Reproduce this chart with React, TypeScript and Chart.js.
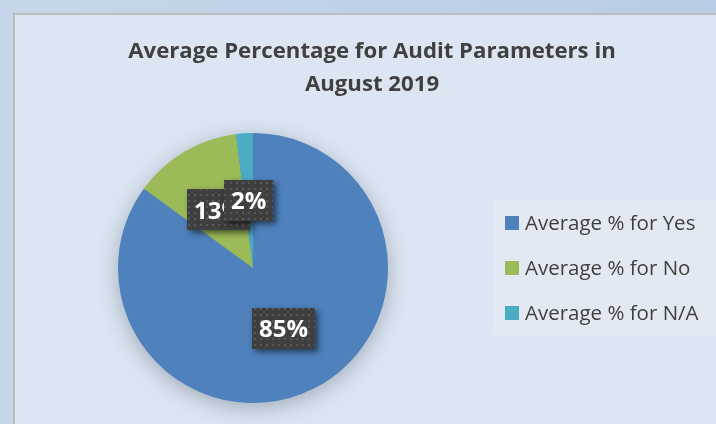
import React, { useEffect, useRef } from "react";
import { Chart, registerables } from "chart.js";

Chart.register(...registerables);

const categories = ["Average % for Yes", "Average % for No", "Average % for N/A"];
const values = [85, 13, 2];
const valueLabels = ["85%", "13%", "2%"];
const colors = ["#4f81bd", "#9bbb59", "#4bacc6"];
const titleLines = ["Average Percentage for Audit Parameters in", "August 2019"];

const FONT = "'Open Sans', 'DejaVu Sans', sans-serif";

function makePattern(ctx: CanvasRenderingContext2D) {
  const c = document.createElement("canvas");
  c.width = 6;
  c.height = 6;
  const p = c.getContext("2d")!;
  p.fillStyle = "#3f3f3f";
  p.fillRect(0, 0, 6, 6);
  p.fillStyle = "#575757";
  p.fillRect(2, 2, 2, 2);
  return ctx.createPattern(c, "repeat");
}

const backgroundPlugin = {
  id: "bgPanel",
  beforeDraw(chart: any) {
    const ctx: CanvasRenderingContext2D = chart.ctx;
    const W = chart.width;
    const H = chart.height;
    ctx.save();
    const g = ctx.createLinearGradient(0, 0, W, 0);
    g.addColorStop(0, "#c6d6ea");
    g.addColorStop(1, "#b9cde6");
    ctx.fillStyle = g;
    ctx.fillRect(0, 0, W, H);
    // panel
    ctx.fillStyle = "#bdbdbd";
    ctx.fillRect(13, 13, W - 13, H - 13);
    ctx.fillStyle = "#dce6f2";
    ctx.fillRect(15, 15, W - 15, H - 15);
    // legend box
    ctx.fillStyle = "#e3e9f2";
    ctx.fillRect(493, 200, W - 493, 135);

    // title
    ctx.fillStyle = "#404040";
    ctx.font = `bold 22.2px ${FONT}`;
    ctx.textAlign = "center";
    ctx.textBaseline = "middle";
    ctx.fillText(titleLines[0], 372, 52);
    ctx.fillText(titleLines[1], 372, 85);

    // legend
    const ys = [223, 268, 313];
    ctx.textAlign = "left";
    ctx.font = `20.5px ${FONT}`;
    categories.forEach((c, i) => {
      ctx.fillStyle = colors[i];
      ctx.fillRect(505, ys[i] - 7, 14, 14);
      ctx.fillStyle = "#404040";
      ctx.fillText(c, 525, ys[i] + 1);
    });
    ctx.restore();
  },
  beforeDatasetsDraw(chart: any) {
    const meta = chart.getDatasetMeta(0);
    const arc = meta.data[0];
    if (!arc) return;
    const ctx: CanvasRenderingContext2D = chart.ctx;
    ctx.save();
    ctx.shadowColor = "rgba(40,50,70,0.35)";
    ctx.shadowBlur = 22;
    ctx.shadowOffsetX = 0;
    ctx.shadowOffsetY = 5;
    ctx.fillStyle = "#4f81bd";
    ctx.beginPath();
    ctx.arc(arc.x, arc.y, arc.outerRadius - 1, 0, Math.PI * 2);
    ctx.fill();
    ctx.restore();
  },
  afterDatasetsDraw(chart: any) {
    const meta = chart.getDatasetMeta(0);
    const ctx: CanvasRenderingContext2D = chart.ctx;
    const pattern = makePattern(ctx);
    ctx.save();
    ctx.font = `bold 24px ${FONT}`;
    meta.data.forEach((arc: any, i: number) => {
      const pos = arc.tooltipPosition();
      const label = valueLabels[i];
      const tw = ctx.measureText(label).width;
      const w = Math.round(tw + 14);
      const h = 41;
      const x = Math.round(pos.x - w / 2);
      const y = Math.round(pos.y - h / 2);
      ctx.save();
      ctx.shadowColor = "rgba(0,0,0,0.55)";
      ctx.shadowBlur = 6;
      ctx.shadowOffsetX = 3;
      ctx.shadowOffsetY = 3;
      ctx.fillStyle = "#3f3f3f";
      ctx.fillRect(x, y, w, h);
      ctx.restore();
      ctx.fillStyle = pattern || "#3f3f3f";
      ctx.fillRect(x, y, w, h);
      ctx.fillStyle = "#ffffff";
      ctx.textAlign = "center";
      ctx.textBaseline = "middle";
      ctx.fillText(label, pos.x, pos.y + 2);
    });
    ctx.restore();
  },
};

export default function App() {
  const ref = useRef<HTMLCanvasElement>(null);
  useEffect(() => {
    document.body.style.margin = "0";
    const canvas = ref.current!;
    const chart = new Chart(canvas, {
      type: "pie",
      data: {
        labels: categories,
        datasets: [
          {
            data: values,
            backgroundColor: colors,
            borderWidth: 0,
          },
        ],
      },
      options: {
        responsive: false,
        animation: false,
        events: [],
        layout: { padding: { left: 118, right: 328, top: 133, bottom: 21 } },
        plugins: {
          legend: { display: false },
          tooltip: { enabled: false },
          title: { display: false },
        },
      },
      plugins: [backgroundPlugin],
    });
    return () => chart.destroy();
  }, []);
  return <canvas ref={ref} width={716} height={424} style={{ display: "block" }} />;
}
